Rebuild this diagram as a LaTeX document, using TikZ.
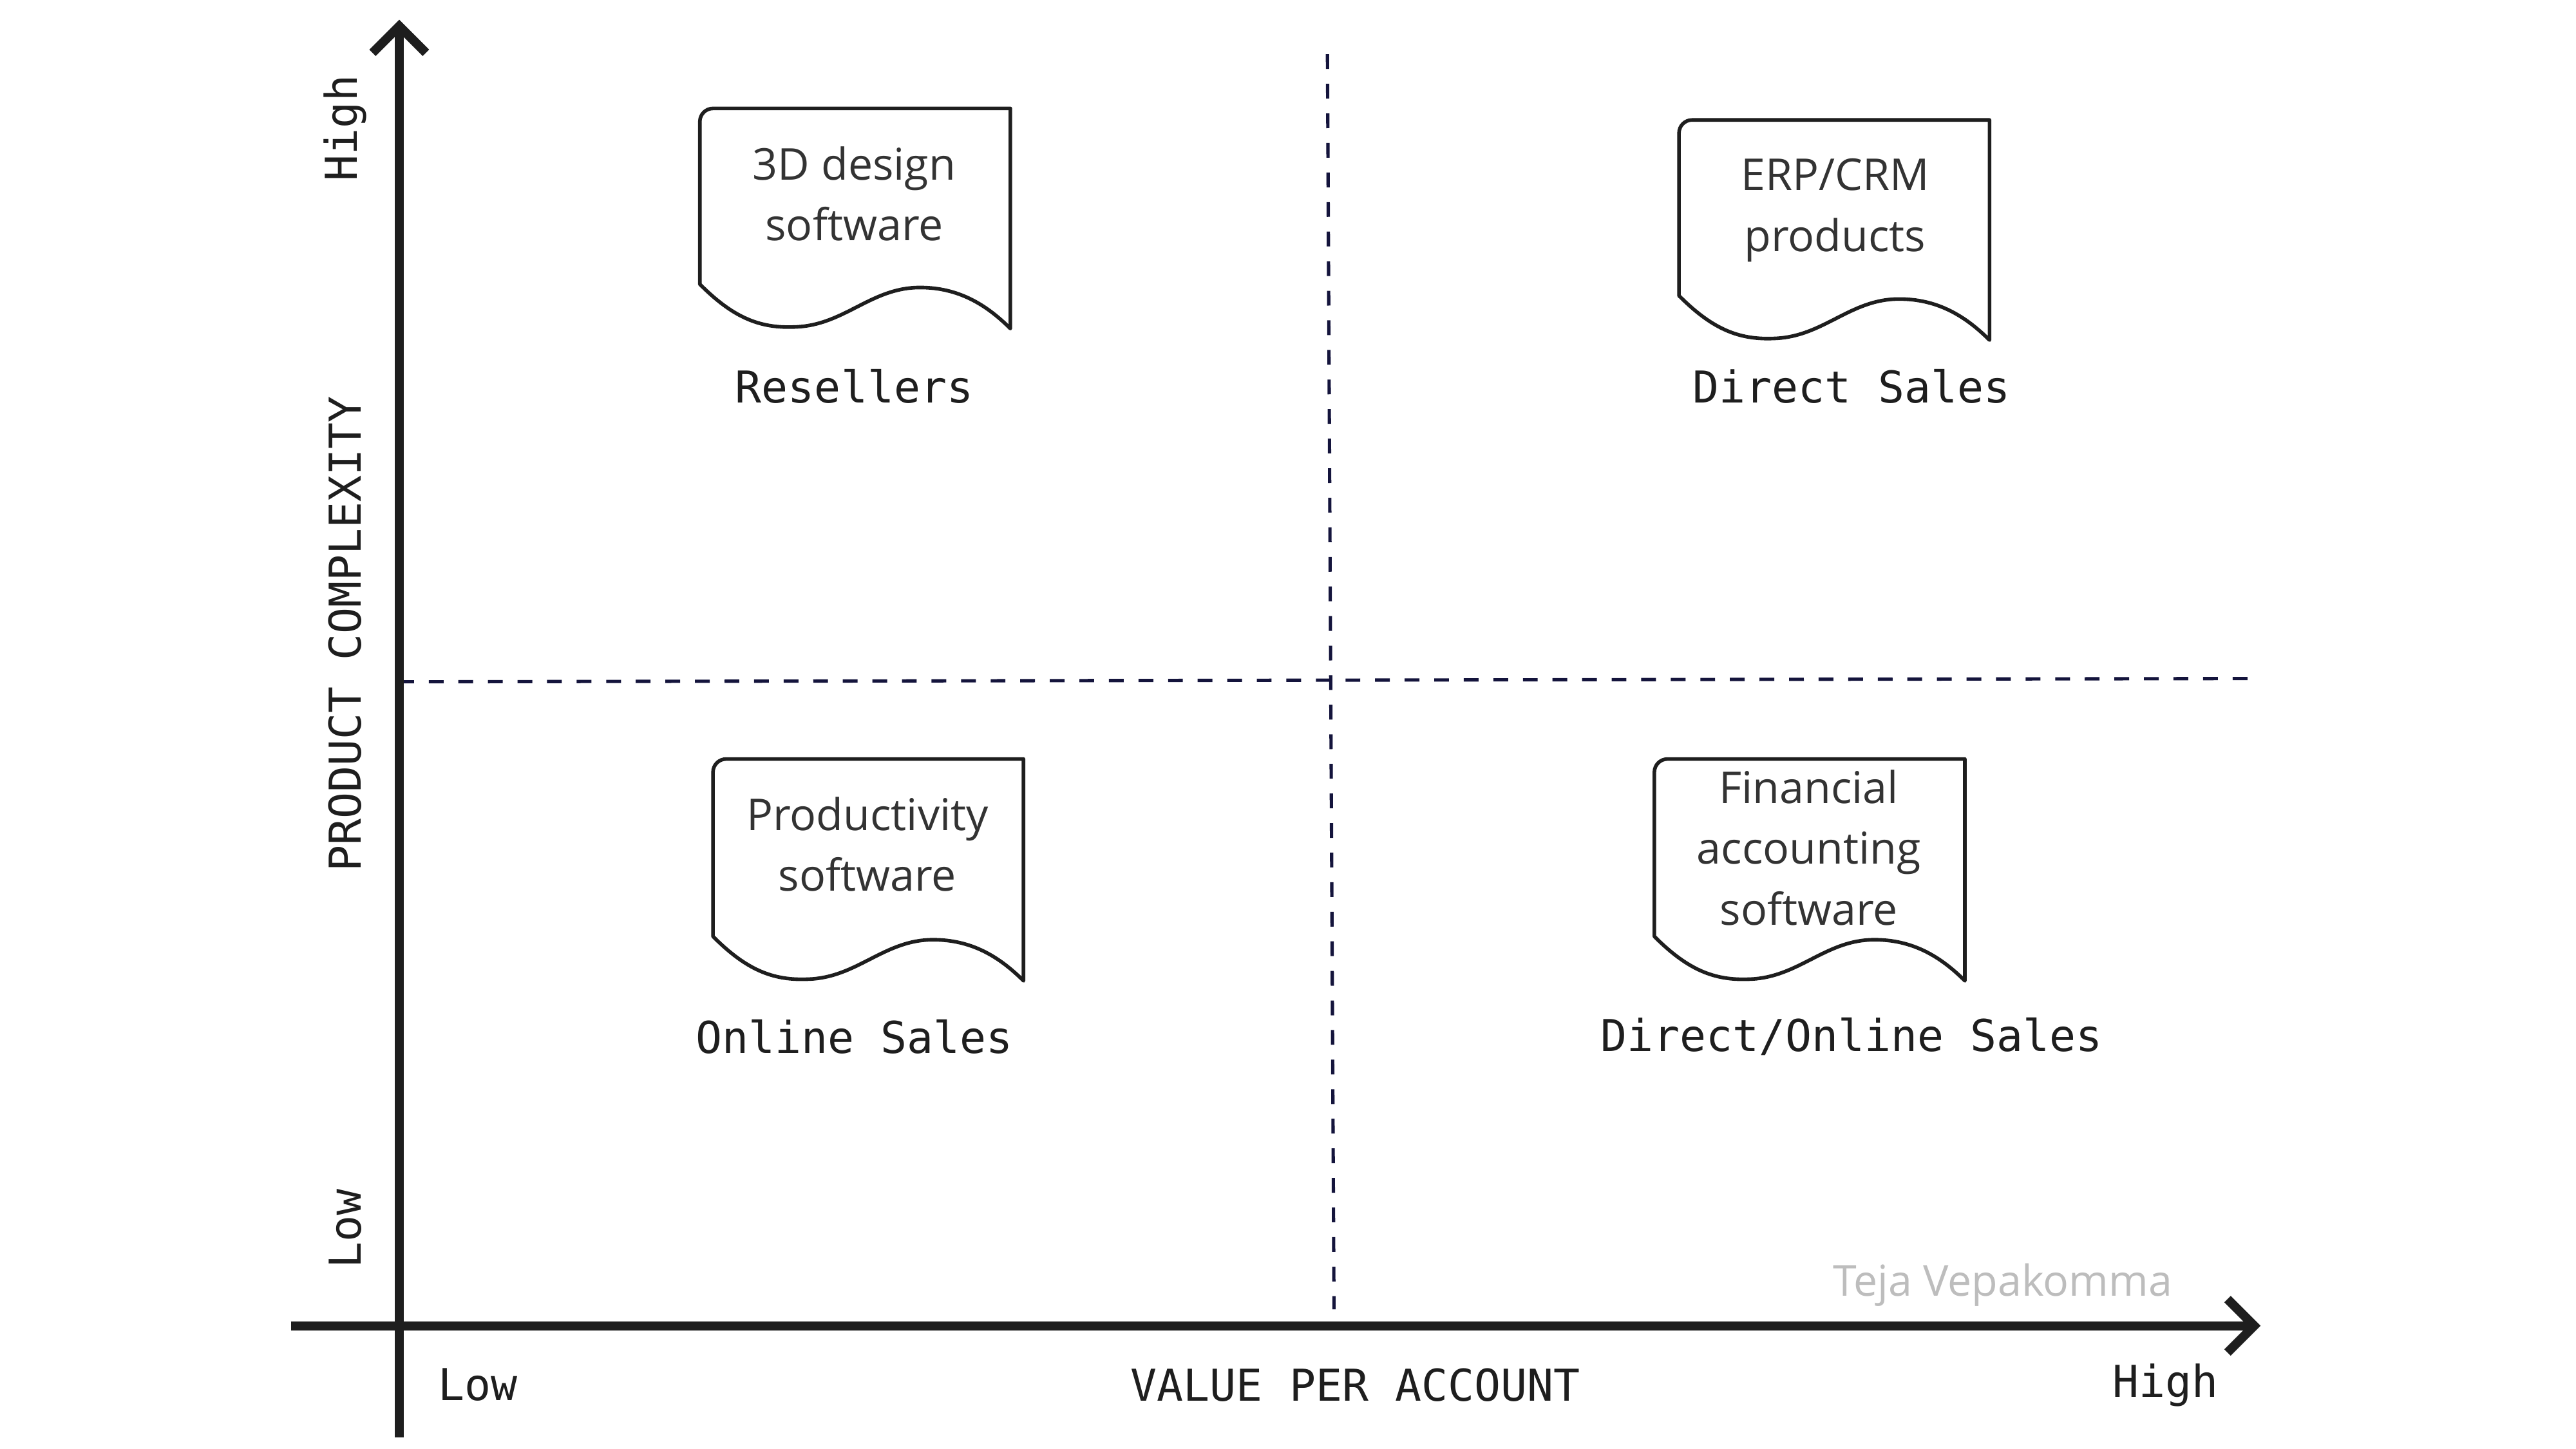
\documentclass[tikz,border=0pt]{standalone}
\usepackage{fontspec}
\setmainfont{Open Sans}
\newfontfamily\plexmono{DejaVu Sans Mono}
\usepackage{tikz}
\usetikzlibrary{arrows.meta}
\definecolor{axisink}{HTML}{1E1E1E}
\definecolor{quadnavy}{HTML}{14143C}
\definecolor{boxtext}{HTML}{333333}
\definecolor{signgrey}{HTML}{BDBDBD}

\begin{document}
\begin{tikzpicture}[x=0.1mm,y=-0.1mm,
	axis/.style={draw=axisink, line width=0.55mm},
	quadline/.style={draw=quadnavy, line width=0.2mm, dash pattern=on 0.9mm off 0.9mm},
	docshape/.style={draw=axisink, line width=0.22mm, line join=round},
	doctext/.style={text=boxtext, align=center, font=\fontsize{7.6}{10.5}\selectfont},
	channel/.style={text=axisink, font=\plexmono\fontsize{7.6}{9}\selectfont},
	axislabel/.style={text=axisink, font=\plexmono\fontsize{7.6}{9}\selectfont}]
		\useasboundingbox (0,0) rectangle (1568,882);
		\coordinate (ybottom) at (243,875);
		\coordinate (ytop) at (243,12);
		\coordinate (xleft) at (177,807);
		\coordinate (xright) at (1376,807);
		\coordinate (vtop) at (808,33);
		\coordinate (vbottom) at (812,797);
		\coordinate (hleft) at (243,415);
		\coordinate (hright) at (1370,413);
		\draw[quadline] (vtop) -- (vbottom);
		\draw[quadline] (hleft) -- (hright);
		\draw[axis, -{Straight Barb[angle=90:2.3mm]}] (ybottom) -- (ytop);
		\draw[axis, -{Straight Barb[angle=90:2.3mm]}] (xleft) -- (xright);
		\node[axislabel, rotate=90] (yhigh) at (210,78) {High};
		\node[axislabel, rotate=90] (ytitle) at (210,386) {PRODUCT COMPLEXITY};
		\node[axislabel, rotate=90] (ylow) at (210,748) {Low};
		\node[axislabel] (xlow) at (291,843) {Low};
		\node[axislabel] (xtitle) at (825,843) {VALUE PER ACCOUNT};
		\node[axislabel] (xhigh) at (1318,843) {High};
		\draw[docshape] (615,100) -- (615,66) [rounded corners=0.8mm] -- (426,66) -- (426,120) [sharp corners] -- (426,173) .. controls (446,193) and (462,200) .. (484,199) .. controls (514,198) and (530,175) .. (560,175) .. controls (583,175) and (600,185) .. (615,200) -- cycle;
		\node[doctext] (design) at (520,118) {3D design\\software};
		\node[channel] (resellers) at (520,235) {Resellers};
		\draw[docshape] (1211,107) -- (1211,73) [rounded corners=0.8mm] -- (1022,73) -- (1022,127) [sharp corners] -- (1022,180) .. controls (1042,200) and (1058,207) .. (1080,206) .. controls (1110,205) and (1126,182) .. (1156,182) .. controls (1179,182) and (1196,192) .. (1211,207) -- cycle;
		\node[doctext] (erp) at (1117,128) {ERP/CRM\\products};
		\node[channel] (direct) at (1127,235) {Direct Sales};
		\draw[docshape] (623,496) -- (623,462) [rounded corners=0.8mm] -- (434,462) -- (434,516) [sharp corners] -- (434,570) .. controls (454,590) and (470,597) .. (492,596) .. controls (522,595) and (538,572) .. (568,572) .. controls (591,572) and (608,582) .. (623,597) -- cycle;
		\node[doctext] (productivity) at (528,514) {Productivity\\software};
		\node[channel] (online) at (520,631) {Online Sales};
		\draw[docshape] (1196,496) -- (1196,462) [rounded corners=0.8mm] -- (1007,462) -- (1007,516) [sharp corners] -- (1007,570) .. controls (1027,590) and (1043,597) .. (1065,596) .. controls (1095,595) and (1111,572) .. (1141,572) .. controls (1164,572) and (1181,582) .. (1196,597) -- cycle;
		\node[doctext] (financial) at (1101,516) {Financial\\accounting\\software};
		\node[channel] (directonline) at (1127,631) {Direct/Online Sales};
		\node[text=signgrey, font=\fontsize{7.4}{9}\selectfont] (signature) at (1219,782) {Teja Vepakomma};
	\end{tikzpicture}
\end{document}
